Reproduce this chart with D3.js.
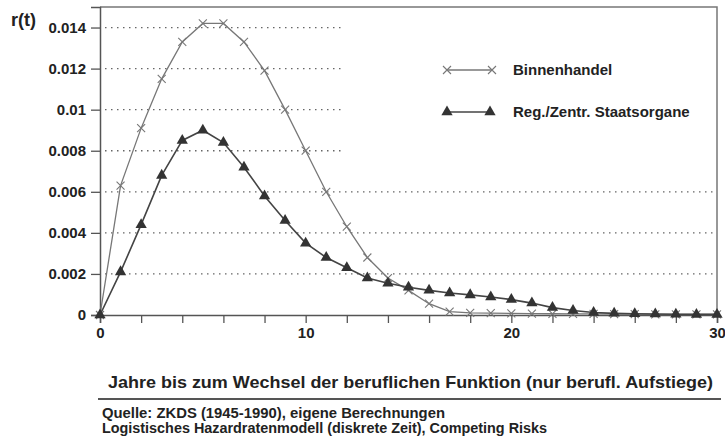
<!DOCTYPE html>
<html>
<head>
<meta charset="utf-8">
<script src="https://cdn.jsdelivr.net/npm/d3@7"></script>
<style>
  body { margin: 0; background: #fff; }
  text { font-family: "Liberation Sans", Arial, sans-serif; fill: #222; }
</style>
</head>
<body>
<div id="chart"></div>
<script>
// Years (t) and estimated hazard rates
const years = d3.range(0, 31);
const binnenhandel = [0, 0.0063, 0.0091, 0.0115, 0.0133, 0.0142, 0.0142, 0.0133, 0.0119, 0.0100,
  0.0080, 0.0060, 0.0043, 0.0028, 0.0018, 0.0012, 0.00055, 0.00016, 0.0001, 0.00009,
  0.00008, 0.00007, 0.00006, 0.00005, 0.00005, 0.00004, 0.00004, 0.00003, 0.00003, 0.00003, 0.00003];
const staatsorgane = [0, 0.0021, 0.0044, 0.0068, 0.0085, 0.0090, 0.0084, 0.0072, 0.0058, 0.0046,
  0.0035, 0.0028, 0.0023, 0.0018, 0.00155, 0.00135, 0.0012, 0.00107, 0.00098, 0.00088,
  0.00075, 0.00058, 0.00036, 0.00022, 0.00012, 0.00008, 0.00006, 0.00005, 0.00004, 0.00003, 0.00003];
const yTicks = [0, 0.002, 0.004, 0.006, 0.008, 0.01, 0.012, 0.014];
const xLabels = [0, 10, 20, 30];
const seriesNames = ["Binnenhandel", "Reg./Zentr. Staatsorgane"];
const xTitle = "Jahre bis zum Wechsel der beruflichen Funktion (nur berufl. Aufstiege)";
const sourceLines = ["Quelle: ZKDS (1945-1990), eigene Berechnungen",
  "Logistisches Hazardratenmodell (diskrete Zeit), Competing Risks"];

const W = 725, H = 443;
const svg = d3.select("#chart").append("svg")
  .attr("width", W).attr("height", H);

const x = d3.scaleLinear().domain([0, 30]).range([100, 717]);
const y = d3.scaleLinear().domain([0, 0.015]).range([315, 7]);

// dotted gridlines
svg.append("g")
  .selectAll("line")
  .data(yTicks.filter(d => d > 0))
  .join("line")
    .attr("x1", x(0) + 5).attr("x2", x(30) - 4)
    .attr("y1", d => y(d)).attr("y2", d => y(d))
    .attr("stroke", "#666")
    .attr("stroke-width", 1.3)
    .attr("stroke-dasharray", "1.5,4.5");

// white legend box hides the upper gridlines on the right
svg.append("rect")
  .attr("x", 342).attr("y", 9)
  .attr("width", x(30) - 344).attr("height", 162)
  .attr("fill", "#fff");

// frame: top and right
svg.append("path")
  .attr("d", `M${x(0)},${y(0.015)}H${x(30)}V${y(0)}`)
  .attr("fill", "none").attr("stroke", "#777").attr("stroke-width", 1.5);

// y axis
const yAxis = d3.axisLeft(y).tickValues(yTicks).tickSize(9).tickPadding(5)
  .tickFormat(d => d === 0 ? "0" : d3.format("")(+d.toFixed(3)));
const gy = svg.append("g").attr("transform", `translate(${x(0)},0)`).call(yAxis);
gy.selectAll("text").style("font-size", "15px").style("font-weight", "bold").attr("fill", "#222");

// x axis
const xAxis = d3.axisBottom(x).tickValues(d3.range(0, 31, 2)).tickSize(8).tickPadding(4)
  .tickFormat(d => xLabels.includes(d) ? d : "");
const gx = svg.append("g").attr("transform", `translate(0,${y(0)})`).call(xAxis);
gx.selectAll("text").style("font-size", "15px").style("font-weight", "bold").attr("fill", "#222");

[gx, gy].forEach(g => {
  g.select(".domain").attr("stroke", "#555").attr("stroke-width", 1.5);
  g.selectAll(".tick line").attr("stroke", "#555").attr("stroke-width", 1.3);
});

// y label
svg.append("text")
  .attr("x", 11).attr("y", 26)
  .style("font-size", "18px").style("font-weight", "bold")
  .text("r(t)");

// lines
const line = d3.line().x((d, i) => x(years[i])).y(d => y(d));

svg.append("path").datum(binnenhandel)
  .attr("d", line).attr("fill", "none")
  .attr("stroke", "#777").attr("stroke-width", 1.3);

svg.append("path").datum(staatsorgane)
  .attr("d", line).attr("fill", "none")
  .attr("stroke", "#444").attr("stroke-width", 1.6);

// markers
const crossPath = "M-4,-4L4,4M-4,4L4,-4";
const triPath = d3.symbol().type(d3.symbolTriangle).size(55)();

svg.append("g").selectAll("path")
  .data(binnenhandel)
  .join("path")
    .attr("transform", (d, i) => `translate(${x(years[i])},${y(d)})`)
    .attr("d", crossPath)
    .attr("stroke", "#777").attr("stroke-width", 1.1).attr("fill", "none");

svg.append("g").selectAll("path")
  .data(staatsorgane)
  .join("path")
    .attr("transform", (d, i) => `translate(${x(years[i])},${y(d)})`)
    .attr("d", triPath)
    .attr("fill", "#333");

// legend
const leg = svg.append("g");
leg.append("line").attr("x1", 447).attr("x2", 492).attr("y1", 70).attr("y2", 70)
  .attr("stroke", "#777").attr("stroke-width", 1.3);
leg.selectAll(".lx").data([447, 492]).join("path")
  .attr("transform", d => `translate(${d},70)`)
  .attr("d", crossPath).attr("stroke", "#777").attr("stroke-width", 1.1);
leg.append("line").attr("x1", 447).attr("x2", 490).attr("y1", 112).attr("y2", 112)
  .attr("stroke", "#444").attr("stroke-width", 1.6);
leg.selectAll(".lt").data([447, 490]).join("path")
  .attr("transform", d => `translate(${d},112)`)
  .attr("d", triPath).attr("fill", "#333");
leg.selectAll("text").data(seriesNames).join("text")
  .attr("x", 513).attr("y", (d, i) => 75 + i * 42)
  .style("font-size", "15px").style("font-weight", "bold")
  .text(d => d);

// axis title, rule and source
svg.append("text")
  .attr("x", 108).attr("y", 388)
  .attr("textLength", 605).attr("lengthAdjust", "spacingAndGlyphs")
  .style("font-size", "17px").style("font-weight", "bold")
  .text(xTitle);

svg.append("line")
  .attr("x1", 98).attr("x2", 721).attr("y1", 399).attr("y2", 399)
  .attr("stroke", "#555").attr("stroke-width", 2);

const srcWidths = [343, 445];
svg.selectAll(".src").data(sourceLines).join("text")
  .attr("class", "src")
  .attr("x", 102).attr("y", (d, i) => 418 + i * 15)
  .attr("textLength", (d, i) => srcWidths[i]).attr("lengthAdjust", "spacingAndGlyphs")
  .style("font-size", "14px").style("font-weight", "bold")
  .text(d => d);
</script>
</body>
</html>
